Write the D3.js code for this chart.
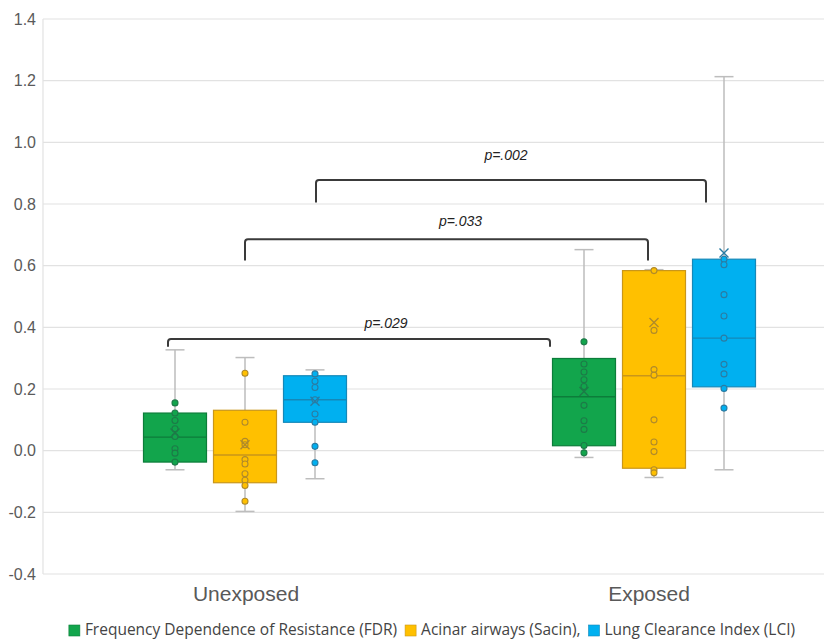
<!DOCTYPE html>
<html>
<head>
<meta charset="utf-8">
<script src="https://cdn.jsdelivr.net/npm/d3@7"></script>
<style>
  body { margin: 0; background: #fff; }
  svg { display: block; }
</style>
</head>
<body>
<svg id="chart" width="824" height="640"></svg>
<script>
// categories and series
const groups = ["Unexposed", "Exposed"];
const seriesNames = ["Frequency Dependence of Resistance (FDR)", "Acinar airways (Sacin),", "Lung Clearance Index (LCI)"];
const yTicks = [-0.4, -0.2, 0.0, 0.2, 0.4, 0.6, 0.8, 1.0, 1.2, 1.4];

// box stats per series, [Unexposed, Exposed]
const fdrMin = [-0.062, -0.022], fdrQ1 = [-0.037, 0.016], fdrMed = [0.044, 0.175], fdrQ3 = [0.122, 0.299], fdrMax = [0.327, 0.652], fdrMean = [0.057, 0.192];
const sacMin = [-0.197, -0.087], sacQ1 = [-0.104, -0.057], sacMed = [-0.014, 0.243], sacQ3 = [0.131, 0.584], sacMax = [0.302, 0.587], sacMean = [0.019, 0.416];
const lciMin = [-0.091, -0.062], lciQ1 = [0.092, 0.207], lciMed = [0.165, 0.365], lciQ3 = [0.243, 0.621], lciMax = [0.262, 1.213], lciMean = [0.160, 0.641];

// individual points
const fdrPoints = [
  [0.155, 0.122, 0.098, 0.071, 0.046, 0.006, -0.008, -0.037],
  [0.353, 0.281, 0.255, 0.230, 0.208, 0.147, 0.097, 0.069, 0.017, -0.007]
];
const sacPoints = [
  [0.251, 0.092, 0.030, 0.019, -0.029, -0.043, -0.075, -0.096, -0.113, -0.164],
  [0.584, 0.390, 0.263, 0.245, 0.100, 0.028, -0.003, -0.062, -0.072]
];
const lciPoints = [
  [0.249, 0.225, 0.205, 0.165, 0.119, 0.092, 0.014, -0.039],
  [0.621, 0.603, 0.506, 0.437, 0.365, 0.280, 0.249, 0.202, 0.138]
];

// significance brackets
const bracketLabels = ["p=.029", "p=.033", "p=.002"];
const bracketTop = [0.362, 0.686, 0.878];
const bracketLeg = [0.337, 0.617, 0.805];
const bracketFrom = [0, 1, 2];   // series index in Unexposed
const bracketTo = [0, 1, 2];     // series index in Exposed
const bracketLabelY = [0.399, 0.729, 0.943];

const fills = ["#12a54c", "#ffc000", "#00b0f0"];
const strokes = ["#0c7d3a", "#c9961a", "#1588b8"];
const dotStrokes = ["#1d7a48", "#b08a2a", "#2a7ca3"];

const stats = [
  { min: fdrMin, q1: fdrQ1, med: fdrMed, q3: fdrQ3, max: fdrMax, mean: fdrMean, pts: fdrPoints },
  { min: sacMin, q1: sacQ1, med: sacMed, q3: sacQ3, max: sacMax, mean: sacMean, pts: sacPoints },
  { min: lciMin, q1: lciQ1, med: lciMed, q3: lciQ3, max: lciMax, mean: lciMean, pts: lciPoints }
];

const svg = d3.select("#chart");
const W = 824, plotLeft = 43, plotTop = 19, plotBottom = 574;

const x = d3.scaleBand().domain(groups).range([40.5, 858.5]);
const xs = d3.scaleBand().domain(d3.range(3)).range([-101.5, 101.5]).paddingInner(0.1);
const y = d3.scaleLinear().domain([-0.4, 1.4]).range([plotBottom, plotTop]);
const fmt = d3.formatLocale({ decimal: ".", thousands: ",", grouping: [3], currency: ["$", ""], minus: "-" }).format(".1f");

const cx = (g, s) => x(groups[g]) + x.bandwidth() / 2 + xs(s) + xs.bandwidth() / 2;

// grid
svg.append("g")
  .selectAll("line")
  .data(yTicks)
  .join("line")
  .attr("x1", plotLeft).attr("x2", W)
  .attr("y1", d => y(d)).attr("y2", d => y(d))
  .attr("stroke", "#e2e2e2").attr("stroke-width", 1.2);

svg.append("line")
  .attr("x1", plotLeft).attr("x2", plotLeft)
  .attr("y1", y(1.4)).attr("y2", y(-0.4))
  .attr("stroke", "#e2e2e2").attr("stroke-width", 1.2);

// y axis labels
const yAxis = d3.axisLeft(y).tickValues(yTicks).tickFormat(fmt).tickSize(0).tickPadding(7);
svg.append("g")
  .attr("transform", `translate(${plotLeft},0)`)
  .call(yAxis)
  .call(g => g.select(".domain").remove())
  .selectAll("text")
  .attr("font-family", "Liberation Sans, Arial, sans-serif")
  .attr("font-size", 16)
  .attr("fill", "#5a5a5a");

// x axis labels
const xAxis = d3.axisBottom(x).tickSize(0).tickPadding(0);
svg.append("g")
  .attr("transform", `translate(0,${plotBottom})`)
  .call(xAxis)
  .call(g => g.select(".domain").remove())
  .selectAll("text")
  .attr("dy", null)
  .attr("y", 27)
  .attr("dx", d => d === "Exposed" ? -5 : 1)
  .attr("font-family", "Liberation Sans, Arial, sans-serif")
  .attr("font-size", 21)
  .attr("fill", "#595959");

// boxes
const boxes = [];
stats.forEach((st, s) => {
  groups.forEach((gName, g) => boxes.push({ s, g, st }));
});

const boxG = svg.append("g");
const capW = 19;

boxes.forEach(({ s, g, st }) => {
  const c = cx(g, s);
  const bw = xs.bandwidth();
  const gg = boxG.append("g");

  // whiskers
  gg.append("line")
    .attr("x1", c).attr("x2", c)
    .attr("y1", y(st.max[g])).attr("y2", y(st.min[g]))
    .attr("stroke", "#bdbdbd").attr("stroke-width", 1.5);
  [st.max[g], st.min[g]].forEach(v => {
    gg.append("line")
      .attr("x1", c - capW / 2).attr("x2", c + capW / 2)
      .attr("y1", y(v)).attr("y2", y(v))
      .attr("stroke", "#bdbdbd").attr("stroke-width", 1.5);
  });

  gg.append("rect")
    .attr("x", c - bw / 2)
    .attr("y", y(st.q3[g]))
    .attr("width", bw)
    .attr("height", y(st.q1[g]) - y(st.q3[g]))
    .attr("fill", fills[s])
    .attr("stroke", strokes[s])
    .attr("stroke-width", 1.2);

  gg.append("line")
    .attr("x1", c - bw / 2).attr("x2", c + bw / 2)
    .attr("y1", y(st.med[g])).attr("y2", y(st.med[g]))
    .attr("stroke", strokes[s]).attr("stroke-width", 1.4);

  gg.selectAll("circle")
    .data(st.pts[g])
    .join("circle")
    .attr("cx", c)
    .attr("cy", d => y(d))
    .attr("r", 3)
    .attr("fill", fills[s])
    .attr("stroke", dotStrokes[s])
    .attr("stroke-width", 1.1);

  const m = 4.5, my = y(st.mean[g]);
  gg.append("path")
    .attr("d", `M${c - m},${my - m}L${c + m},${my + m}M${c - m},${my + m}L${c + m},${my - m}`)
    .attr("stroke", dotStrokes[s])
    .attr("stroke-width", 1.4)
    .attr("fill", "none");
});

// brackets
const brOffsetFrom = [-7, 0, 1];
const brOffsetTo = [-34, -6, -18];
const labelShift = [27, 14, -5];
const brG = svg.append("g");
bracketLabels.forEach((lab, i) => {
  const x1 = cx(0, bracketFrom[i]) + brOffsetFrom[i];
  const x2 = cx(1, bracketTo[i]) + brOffsetTo[i];
  const yt = y(bracketTop[i]), yl = y(bracketLeg[i]);
  const r = 3;
  brG.append("path")
    .attr("d", `M${x1},${yl}L${x1},${yt + r}Q${x1},${yt} ${x1 + r},${yt}L${x2 - r},${yt}Q${x2},${yt} ${x2},${yt + r}L${x2},${yl}`)
    .attr("fill", "none")
    .attr("stroke", "#3a3a3a")
    .attr("stroke-width", 2);
  brG.append("text")
    .attr("x", (x1 + x2) / 2 + labelShift[i])
    .attr("y", y(bracketLabelY[i]))
    .attr("text-anchor", "middle")
    .attr("font-family", "Liberation Sans, Arial, sans-serif")
    .attr("font-style", "italic")
    .attr("font-size", 14)
    .attr("fill", "#222")
    .text(lab);
});

// legend
const legend = svg.append("g").attr("transform", "translate(0,635)");
const items = legend.selectAll("g")
  .data(seriesNames)
  .join("g");
items.append("rect")
  .attr("width", 11).attr("height", 11)
  .attr("y", -10)
  .attr("fill", (d, i) => fills[i])
  .attr("stroke", (d, i) => strokes[i])
  .attr("stroke-width", 0.6);
items.append("text")
  .attr("x", 16)
  .attr("font-family", "Open Sans, sans-serif")
  .attr("font-size", 15.5)
  .attr("fill", "#444")
  .text(d => d);

const widths = [];
items.each(function () { widths.push(this.querySelector("text").getComputedTextLength() + 16); });
const gap = 8;
const total = d3.sum(widths) + gap * (widths.length - 1);
let lx = 432 - total / 2;
items.attr("transform", (d, i) => {
  const t = `translate(${lx},0)`;
  lx += widths[i] + gap;
  return t;
});
</script>
</body>
</html>
